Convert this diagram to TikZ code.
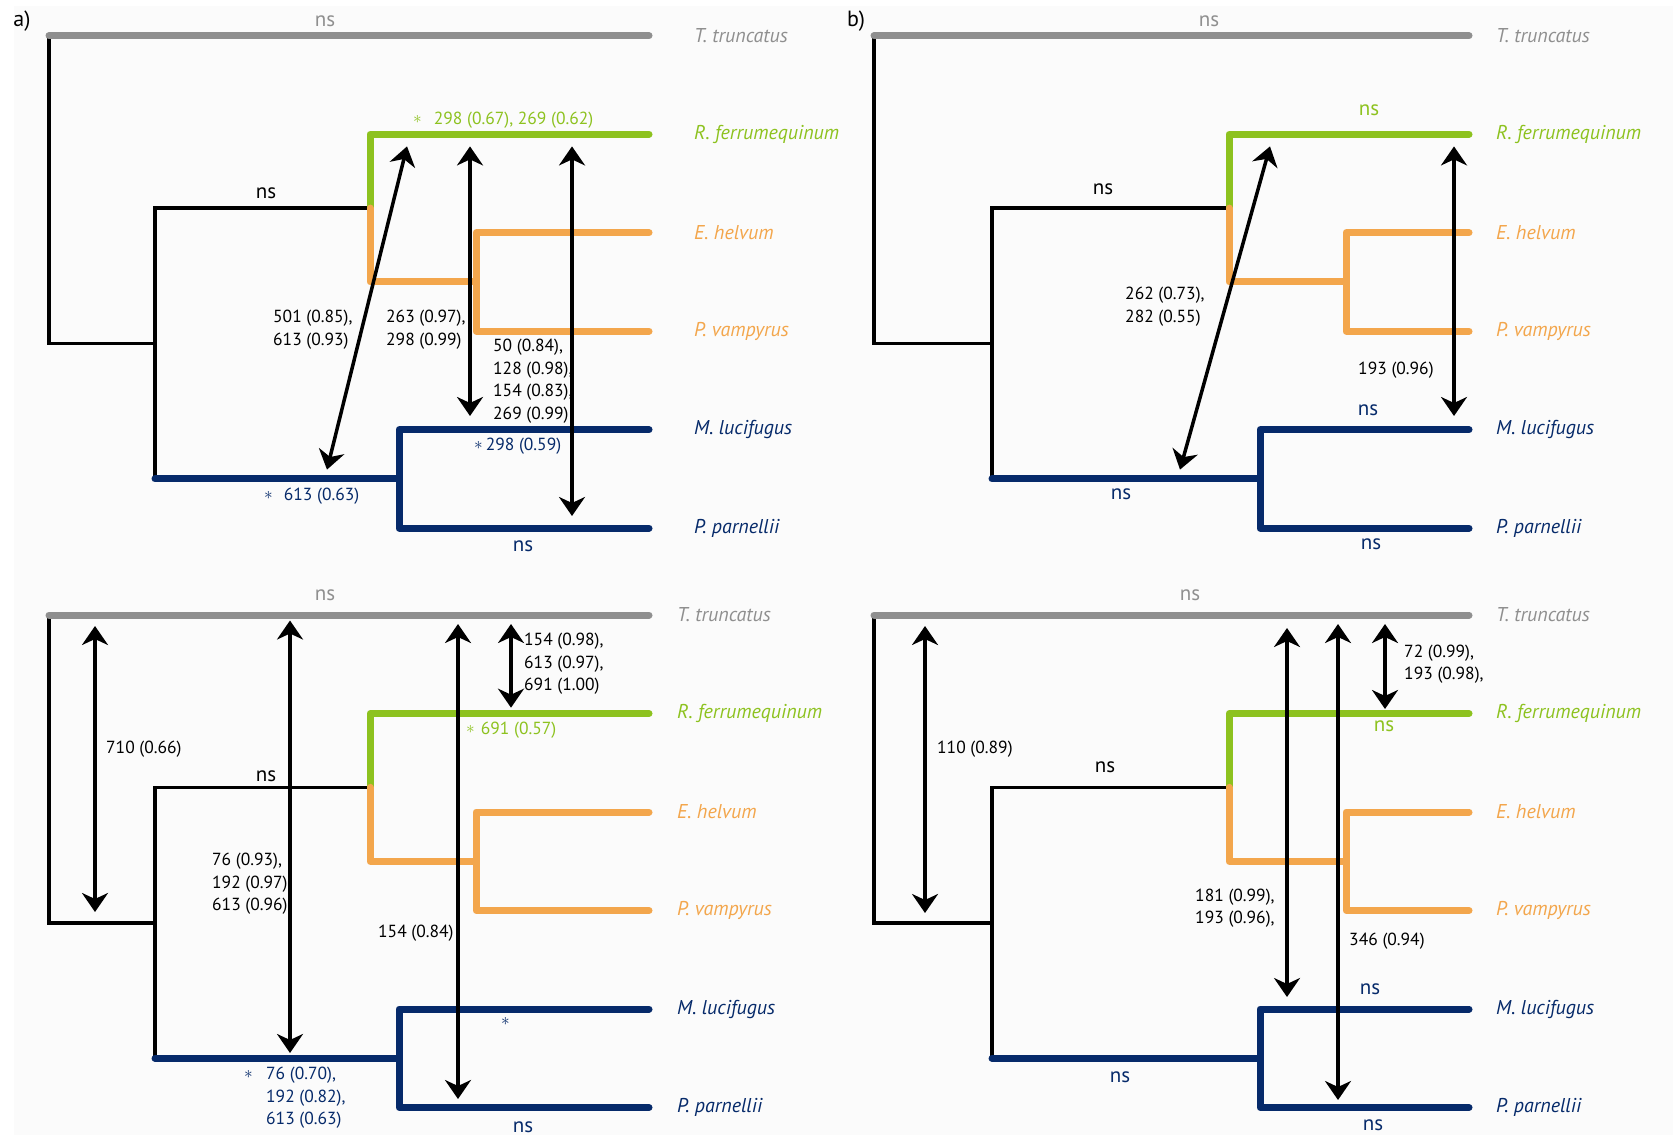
\documentclass[tikz,border=0pt]{standalone}
\usepackage{fontspec}
\setmainfont{PT Sans}
\usetikzlibrary{arrows.meta}
\definecolor{tgray}{HTML}{8F8F8F}
\definecolor{tgreen}{HTML}{8DC21F}
\definecolor{torange}{HTML}{F3A64C}
\definecolor{tnavy}{HTML}{062A6A}
\definecolor{bgc}{HTML}{FBFBFB}
\tikzset{
 blk/.style={line width=3.5pt, black},
 col/.style={line width=7pt, line cap=round, line join=round},
 dbl/.style={line width=3.5pt, black, {Stealth[length=19pt,width=26pt,inset=6pt]}-{Stealth[length=19pt,width=26pt,inset=6pt]}},
 taxon/.style={anchor=west, font=\fontsize{20}{24}\selectfont\itshape, inner sep=0pt},
 num/.style={anchor=west, align=left, font=\fontsize{17.5}{22.5}\selectfont, inner sep=0pt},
 nslab/.style={font=\fontsize{21}{25}\selectfont, inner sep=0pt},
 plab/.style={font=\fontsize{22}{26}\selectfont, inner sep=0pt},
}
\newcommand\myast{\raisebox{0.1ex}{$\ast$}}
% #1 prefix, #2 T0, #3 xroot, #4 xblack, #5 xbat, #6 xep, #7 xblue, #8 xend, #9 xlabel
\newcommand\drawtree[9]{%
 \pgfmathsetmacro\trA{#2}%
 \pgfmathsetmacro\trB{#2+98.5}%
 \pgfmathsetmacro\trC{#2+197}%
 \pgfmathsetmacro\trD{#2+295.5}%
 \pgfmathsetmacro\trE{#2+394}%
 \pgfmathsetmacro\trF{#2+492.5}%
 \pgfmathsetmacro\trEP{(\trC+\trD)/2}%
 \pgfmathsetmacro\trBat{(\trB+\trEP)/2}%
 \pgfmathsetmacro\trBlue{(\trE+\trF)/2}%
 \pgfmathsetmacro\trRoot{(\trBat+\trBlue)/2}%
 \coordinate (#1roottop) at (#3,\trA);
 \coordinate (#1rootbot) at (#3,\trRoot);
 \coordinate (#1bkroot) at (#4,\trRoot);
 \coordinate (#1bkbot) at (#4,\trBlue);
 \coordinate (#1bat) at (#5,\trBat);
 \coordinate (#1ep) at (#6,\trEP);
 \coordinate (#1eptop) at (#6,\trC);
 \coordinate (#1epbot) at (#6,\trD);
 \coordinate (#1bl) at (#7,\trBlue);
 \coordinate (#1bltop) at (#7,\trE);
 \coordinate (#1blbot) at (#7,\trF);
 \coordinate (#1ttend) at (#8,\trA);
 \coordinate (#1rfend) at (#8,\trB);
 \coordinate (#1ehend) at (#8,\trC);
 \coordinate (#1pvend) at (#8,\trD);
 \coordinate (#1mlend) at (#8,\trE);
 \coordinate (#1ppend) at (#8,\trF);
 \draw[blk] (#1roottop) -- (#1rootbot) -- (#1bkroot);
 \draw[blk] (#1bat) -| (#1bkbot);
 \draw[col, tgray] (#1roottop) -- (#1ttend);
 \draw[col, tgreen] (#1rfend) -| (#1bat);
 \draw[col, torange] (#1bat) |- (#1ep);
 \draw[col, torange] (#1ehend) -- (#1eptop) -- (#1epbot) -- (#1pvend);
 \draw[col, tnavy] (#1bkbot) -- (#1bl);
 \draw[col, tnavy] (#1mlend) -- (#1bltop) -- (#1blbot) -- (#1ppend);
 \node[taxon, text=tgray] (#1tt) at (#9,\trA) {T. truncatus};
 \node[taxon, text=tgreen] (#1rf) at (#9,\trB) {R. ferrumequinum};
 \node[taxon, text=torange] (#1eh) at (#9,\trC) {E. helvum};
 \node[taxon, text=torange] (#1pv) at (#9,\trD) {P. vampyrus};
 \node[taxon, text=tnavy] (#1ml) at (#9,\trE) {M. lucifugus};
 \node[taxon, text=tnavy] (#1pp) at (#9,\trF) {P. parnellii};
}
\begin{document}
\begin{tikzpicture}[x=1pt,y=-1pt]
\useasboundingbox (0,0) rectangle (1673,1135);
\fill[bgc] (14,6) rectangle (1673,1135);

\node[plab] (pa) at (22,21) {a)};
\node[plab] (pb) at (856,21) {b)};

% ---------- panel a top ----------
\drawtree{aT}{35.7}{49}{155}{370}{476}{399}{649}{694}
\node[nslab, text=tgray] (aTns0) at (325,21) {ns};
\node[nslab] (aTns1) at (266,193) {ns};
\node[nslab, text=tnavy] (aTns2) at (523,546) {ns};
\node[num, text=tgreen] (aTg) at (413,120) {\myast\hspace{12pt}298 (0.67), 269 (0.62)};
\node[num] (aTl1) at (273,329.5) {501 (0.85),\\613 (0.93)};
\node[num] (aTl2) at (386,329.5) {263 (0.97),\\298 (0.99)};
\node[num] (aTl3) at (493,381) {50 (0.84),\\128 (0.98),\\154 (0.83),\\269 (0.99)};
\node[num, text=tnavy] (aTb1) at (474,446) {\myast\,298 (0.59)};
\node[num, text=tnavy] (aTb2) at (264,496) {\myast\hspace{11pt}613 (0.63)};
\coordinate (aTd1a) at (327,469.6); \coordinate (aTd1b) at (407,146.4);
\coordinate (aTd2a) at (470,146.4); \coordinate (aTd2b) at (470,416);
\coordinate (aTd3a) at (572,146.4); \coordinate (aTd3b) at (572,516);
\draw[dbl] (aTd1a) -- (aTd1b);
\draw[dbl] (aTd2a) -- (aTd2b);
\draw[dbl] (aTd3a) -- (aTd3b);

% ---------- panel b top ----------
\drawtree{bT}{35.7}{874}{992}{1229}{1346}{1260}{1469}{1496}
\node[nslab, text=tgray] (bTns0) at (1209,21) {ns};
\node[nslab, text=tgreen] (bTns1) at (1369,110.7) {ns};
\node[nslab] (bTns2) at (1103,189) {ns};
\node[nslab, text=tnavy] (bTns3) at (1368,410) {ns};
\node[nslab, text=tnavy] (bTns4) at (1121,494.6) {ns};
\node[nslab, text=tnavy] (bTns5) at (1371,544.6) {ns};
\node[num] (bTl1) at (1125,306.5) {262 (0.73),\\282 (0.55)};
\node[num] (bTl2) at (1358,370) {193 (0.96)};
\coordinate (bTd1a) at (1180,469.6); \coordinate (bTd1b) at (1270,146.4);
\coordinate (bTd2a) at (1454,146.4); \coordinate (bTd2b) at (1454,416);
\draw[dbl] (bTd1a) -- (bTd1b);
\draw[dbl] (bTd2a) -- (bTd2b);

% ---------- panel a bottom ----------
\drawtree{aB}{615}{49}{155}{370}{476}{399}{649}{677}
\node[nslab, text=tgray] (aBns0) at (325,595) {ns};
\node[nslab] (aBns1) at (266,776) {ns};
\node[nslab, text=tnavy] (aBns2) at (523,1127) {ns};
\node[num] (aBl1) at (524,663.7) {154 (0.98),\\613 (0.97),\\691 (1.00)};
\node[num, text=tgreen] (aBg) at (466,730) {\myast\hspace{6pt}691 (0.57)};
\node[num] (aBl2) at (106,749) {710 (0.66)};
\node[num] (aBl3) at (212,884) {76 (0.93),\\192 (0.97),\\613 (0.96)};
\node[num] (aBl4) at (378,933) {154 (0.84)};
\node[num, text=tnavy] (aBs1) at (501,1022) {\myast};
\node[num, text=tnavy] (aBs2) at (244,1075) {\myast};
\node[num, text=tnavy] (aBb1) at (266,1098) {76 (0.70),\\192 (0.82),\\613 (0.63)};
\coordinate (aBd1a) at (95,626); \coordinate (aBd1b) at (95,912);
\coordinate (aBd2a) at (290,620.5); \coordinate (aBd2b) at (290,1053);
\coordinate (aBd3a) at (458,624); \coordinate (aBd3b) at (458,1099);
\coordinate (aBd4a) at (511,624); \coordinate (aBd4b) at (511,707.7);
\draw[dbl] (aBd1a) -- (aBd1b);
\draw[dbl] (aBd2a) -- (aBd2b);
\draw[dbl] (aBd3a) -- (aBd3b);
\draw[dbl] (aBd4a) -- (aBd4b);

% ---------- panel b bottom ----------
\drawtree{bB}{615}{874}{992}{1229}{1346}{1260}{1469}{1496}
\node[nslab, text=tgray] (bBns0) at (1190,595) {ns};
\node[nslab, text=tgreen] (bBns1) at (1384,726) {ns};
\node[nslab] (bBns2) at (1105,767.5) {ns};
\node[nslab, text=tnavy] (bBns3) at (1370,989) {ns};
\node[nslab, text=tnavy] (bBns4) at (1120,1077) {ns};
\node[nslab, text=tnavy] (bBns5) at (1373,1125) {ns};
\node[num] (bBl1) at (1404,664) {72 (0.99),\\193 (0.98),};
\node[num] (bBl2) at (937,749) {110 (0.89)};
\node[num] (bBl3) at (1195,908) {181 (0.99),\\193 (0.96),};
\node[num] (bBl4) at (1349,941) {346 (0.94)};
\coordinate (bBd1a) at (925,626); \coordinate (bBd1b) at (925,913);
\coordinate (bBd2a) at (1287,628); \coordinate (bBd2b) at (1287,997);
\coordinate (bBd3a) at (1338,624); \coordinate (bBd3b) at (1338,1100);
\coordinate (bBd4a) at (1385,624); \coordinate (bBd4b) at (1385,709);
\draw[dbl] (bBd1a) -- (bBd1b);
\draw[dbl] (bBd2a) -- (bBd2b);
\draw[dbl] (bBd3a) -- (bBd3b);
\draw[dbl] (bBd4a) -- (bBd4b);
\end{tikzpicture}
\end{document}
